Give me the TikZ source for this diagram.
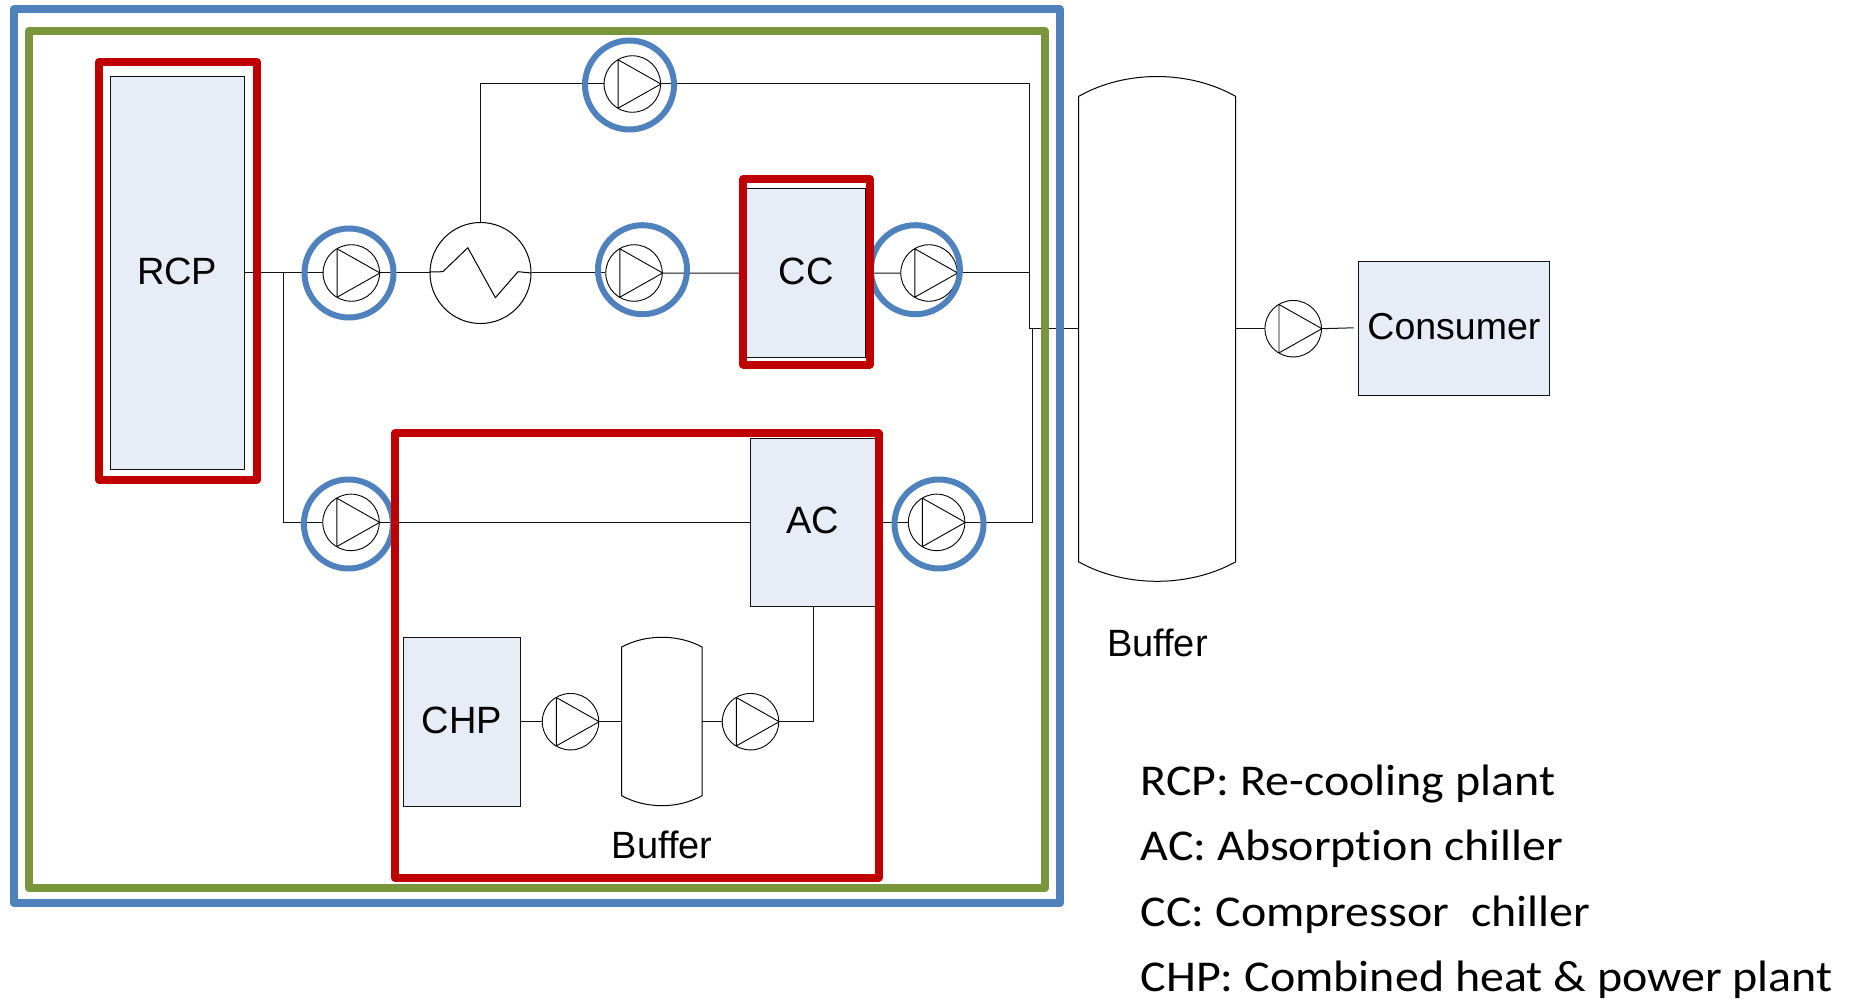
\documentclass[tikz,border=0pt]{standalone}
\usepackage{fontspec}
\setmainfont{Liberation Sans}
\newfontfamily\legendfont[FakeStretch=1.09,Ligatures=NoCommon]{Carlito}
\usetikzlibrary{calc}
\definecolor{framered}{HTML}{C00000}
\definecolor{frameblue}{HTML}{4F81BD}
\definecolor{framegreen}{HTML}{7A963C}
\definecolor{boxfill}{HTML}{E7EDF7}
\definecolor{pipe}{HTML}{111111}
\tikzset{
  pipeline/.style={draw=pipe,line width=1pt},
  boxnode/.style={draw=pipe,fill=boxfill,line width=1pt,inner sep=0pt,text depth=4pt,font=\fontsize{38}{40}\selectfont},
  pumpnode/.style={circle,draw=black,line width=0.9pt,inner sep=0pt,minimum size=56.5pt},
  ringnode/.style={circle,draw=frameblue,line width=6pt,inner sep=0pt,minimum size=89pt},
  framered/.style={draw=framered,line width=8pt,line join=round},
  frameblue/.style={draw=frameblue,line width=8pt,line join=round},
  framegreen/.style={draw=framegreen,line width=8pt,line join=round},
  vessel/.style={draw=black,line width=1pt,fill=white},
  labeltext/.style={inner sep=0pt,font=\fontsize{38}{40}\selectfont},
  legendtext/.style={inner sep=0pt,anchor=base west,font=\legendfont\fontsize{44}{48}\selectfont}
}
% name, x, y
\newcommand{\pumpsym}[3]{%
  \node[pumpnode] (#1) at (#2,#3) {};
  \draw[line width=0.9pt,line join=round] (#1.east) -- ($(#1.center)+(-14.2,-24.2)$) -- ($(#1.center)+(-14.2,24.2)$) -- cycle;
}
\begin{document}
\begin{tikzpicture}[x=1pt,y=-1pt]
\useasboundingbox (0,0) rectangle (1852,1000);
% equipment
\node[boxnode,minimum width=134.4pt,minimum height=392.6pt] (rcp) at (177.2,273) {RCP};
\node[boxnode,minimum width=119.2pt,minimum height=169.1pt] (cc) at (806,273.2) {CC};
\node[boxnode,minimum width=125pt,minimum height=167.7pt] (ac) at (813,522.4) {AC};
\node[boxnode,minimum width=117.4pt,minimum height=169pt] (chp) at (462,722.2) {CHP};
\node[boxnode,minimum width=191.4pt,minimum height=134.4pt,font=\fontsize{37.5}{40}\selectfont] (consumer) at (1453.9,328.5) {Consumer};
% vessels
\coordinate (bigL) at (1078.6,328.7);
\coordinate (bigR) at (1235.7,328.7);
\draw[vessel] (1078.6,96.4) .. controls (1125,69.9) and (1189,69.9) .. (1235.7,96.4) -- (1235.7,561.8) .. controls (1189,587.8) and (1125,587.8) .. (1078.6,561.8) -- cycle;
\coordinate (smallL) at (621.7,721.7);
\coordinate (smallR) at (702,721.7);
\draw[vessel] (621.7,647) .. controls (646,634) and (678,634) .. (702,647) -- (702,795.7) .. controls (678,809) and (646,809) .. (621.7,795.7) -- cycle;
% exchanger
\node[circle,draw=black,line width=1pt,inner sep=0pt,minimum size=101pt] (hx) at (480.5,273) {};
\draw[line width=1pt,line join=round] (hx.west) ++(0,-1) -- (442.9,271.7) -- (467.8,247.7) -- (495.4,297.7) -- (518,271.7) -- (hx.east);
% pumps
\pumpsym{ptop}{632.3}{84}
\pumpsym{pa}{351.3}{273}
\pumpsym{pb}{634}{273}
\pumpsym{pc}{929}{273}
\pumpsym{pd}{351}{522.4}
\pumpsym{pe}{936.6}{522.4}
\pumpsym{pf}{570.5}{721.7}
\pumpsym{pg}{750.5}{721.7}
\pumpsym{ph}{1293.2}{328.7}
% junctions
\coordinate (jleft) at (283.5,273);
\coordinate (jtop) at (1029.5,84);
\coordinate (jmid) at (1029.5,273);
\coordinate (jout) at (1029.5,328.7);
\coordinate (jlow) at (1032,522.4);
\coordinate (jlowb) at (1032,328.7);
\coordinate (jacin) at (813.3,721.7);
\coordinate (consin) at (1353.6,327.8);
% pipes
\draw[pipeline] (rcp.east |- jleft) -- (pa.west);
\draw[pipeline] (jleft) |- (pd.west);
\draw[pipeline] (pa.east) -- (hx.west);
\draw[pipeline] (hx.east) -- (pb.west);
\draw[pipeline] (hx.north) |- (ptop.west);
\draw[pipeline] (ptop.east) -- (jtop) -- (jout) -- (bigL);
\draw[pipeline] (pb.east) -- (cc.west);
\draw[pipeline] (cc.east) -- (pc.west);
\draw[pipeline] (pc.east) -- (jmid);
\draw[pipeline] (pd.east) -- (ac.west);
\draw[pipeline] (ac.east) -- (pe.west);
\draw[pipeline] (pe.east) -- (jlow) -- (jlowb) -- (bigL);
\draw[pipeline] (chp.east |- pf.west) -- (pf.west);
\draw[pipeline] (pf.east) -- (smallL);
\draw[pipeline] (smallR) -- (pg.west);
\draw[pipeline] (pg.east) -- (jacin) -- (ac.south -| jacin);
\draw[pipeline] (bigR) -- (ph.west);
\draw[pipeline] (ph.east) -- (consin);
% frames
\node[ringnode] (rtop) at (629.5,85) {};
\node[ringnode] (ra) at (349,273) {};
\node[ringnode] (rb) at (642.5,269.7) {};
\node[ringnode] (rc) at (915.4,269.7) {};
\node[ringnode] (rd) at (348.4,524) {};
\node[ringnode] (re) at (939,524) {};
\draw[framered] (99,62) rectangle (257,479.7);
\draw[framered] (743.3,179) rectangle (869.7,364.5);
\draw[framered] (395,433.4) rectangle (878.5,877.5);
\draw[framegreen] (28.7,31) rectangle (1045,888);
\draw[frameblue] (13.8,9.5) rectangle (1060,903);
% labels
\node[labeltext] (buf1) at (662,845) {Buffer};
\node[labeltext] (buf2) at (1157.4,642.5) {Buffer};
\node[legendtext] (l1) at (1140.5,795) {RCP: Re-cooling plant};
\node[legendtext] (l2) at (1140.5,860.7) {AC: Absorption chiller};
\node[legendtext] (l3) at (1140.5,926.7) {CC: Compressor\ \ chiller};
\node[legendtext] (l4) at (1140.5,991.7) {CHP: Combined heat \& power plant};
\end{tikzpicture}
\end{document}
